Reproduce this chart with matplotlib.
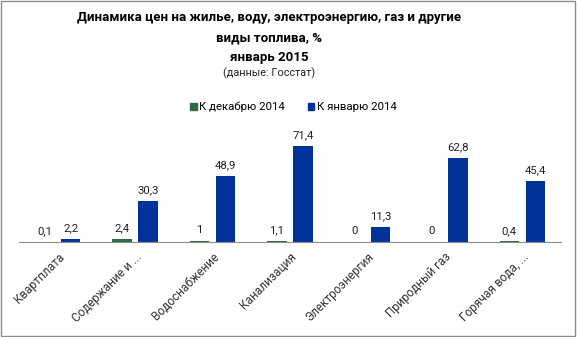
import numpy as np
import matplotlib.pyplot as plt
from matplotlib.patches import Patch, Rectangle

categories = ['Квартплата', 'Содержание и ...', 'Водоснабжение', 'Канализация',
              'Электроэнергия', 'Природный газ', 'Горячая вода, ...']
dec_2014 = [0.1, 2.4, 1, 1.1, 0, 0, 0.4]
jan_2014 = [2.2, 30.3, 48.9, 71.4, 11.3, 62.8, 45.4]
series_names = ['К декабрю 2014', 'К январю 2014']

green = '#2E6B46'
blue = '#00339A'

plt.rcParams['font.family'] = ['Roboto', 'DejaVu Sans']

fig = plt.figure(figsize=(5.77, 3.37), dpi=100)
ax = fig.add_axes([0.0329, 0.2819, 0.9393, 0.3193])

x = np.arange(len(categories))
w = 0.25
off = 0.168
b1 = ax.bar(x - off, dec_2014, w, color=green)
b2 = ax.bar(x + off, jan_2014, w, color=blue)

def fmt(v):
    s = ('%g' % v).replace('.', ',')
    return s

for bars, vals in ((b1, dec_2014), (b2, jan_2014)):
    for r, v in zip(bars, vals):
        ax.annotate(fmt(v), (r.get_x() + r.get_width() / 2, r.get_height()),
                    xytext=(0, 4), textcoords='offset points',
                    ha='center', va='bottom', fontsize=8.2, color='#222222')

ax.set_xlim(-0.5, len(categories) - 0.5)
ax.set_ylim(0, 80)
ax.set_yticks([])
ax.set_xticks(x)
ax.set_xticklabels(categories, rotation=45, ha='right', rotation_mode='anchor',
                   fontsize=8.6, color='#333333')
ax.tick_params(axis='x', length=0, pad=6)
for s in ['top', 'left', 'right']:
    ax.spines[s].set_visible(False)
ax.spines['bottom'].set_color('#8c8c8c')
ax.spines['bottom'].set_zorder(3)
ax.patch.set_alpha(0)

fig.text(0.467, 0.947, 'Динамика цен на жилье, воду, электроэнергию, газ и другие',
         ha='center', va='center', fontsize=9.5, fontweight='bold')
fig.text(0.467, 0.887, 'виды топлива, %', ha='center', va='center',
         fontsize=9.5, fontweight='bold')
fig.text(0.467, 0.830, 'январь 2015', ha='center', va='center',
         fontsize=9.5, fontweight='bold')
fig.text(0.467, 0.783, '(данные: Госстат)', ha='center', va='center',
         fontsize=7.8, color='#222222')

handles = [Patch(color=green), Patch(color=blue)]
fig.legend(handles, series_names, loc='center', bbox_to_anchor=(0.508, 0.682),
           ncol=2, frameon=False, fontsize=8.2, handlelength=0.6,
           handleheight=0.6, handletextpad=0.2, columnspacing=2.0)

fig.patches.append(Rectangle((0.002, 0.004), 0.995, 0.993, transform=fig.transFigure,
                             fill=False, edgecolor='#8c8c8c', linewidth=1.0))

fig.savefig('out.png', dpi=100)
